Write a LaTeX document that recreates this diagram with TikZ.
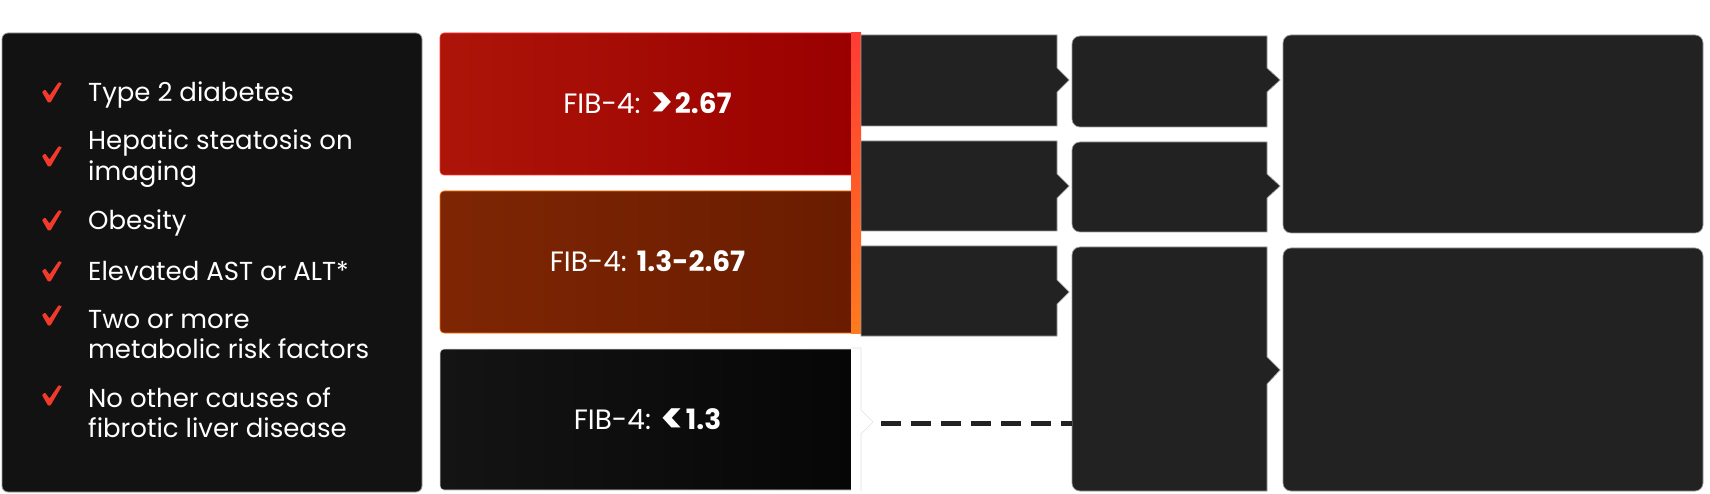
\documentclass[tikz,border=0pt]{standalone}
\usepackage{fontspec}
\setmainfont{Poppins}
\definecolor{boxgray}{HTML}{222222}
\definecolor{edgegray}{HTML}{9A9A9A}
\definecolor{panel}{HTML}{121212}
\definecolor{chkred}{HTML}{F23A2C}
\definecolor{redA}{HTML}{AD1509}
\definecolor{redB}{HTML}{990000}
\definecolor{brnA}{HTML}{7E2604}
\definecolor{brnB}{HTML}{6A1C00}
\definecolor{blkA}{HTML}{141414}
\definecolor{blkB}{HTML}{060606}
\definecolor{barTop}{HTML}{FF3B33}
\definecolor{barBot}{HTML}{FF7A1E}
\definecolor{ghost}{HTML}{E2E2E2}
\newcommand{\bigsym}[1]{\raisebox{-3.5pt}{\scalebox{1.55}{\bfseries #1}}\kern1pt}
\tikzset{
  listtxt/.style={anchor=base west, text=white, inner sep=0pt, font=\fontsize{26}{30}\selectfont},
  chkmark/.pic={\fill[chkred, rounded corners=0.8pt] (0,10) -- (3,7.5) -- (7.5,13.5) -- (16.5,0.5) -- (18,0) -- (17.5,1.2) -- (20,0.8) -- (8.5,20.5) -- (6,20.5) -- cycle;},
  fibbox/.style={rectangle, rounded corners=4pt, inner sep=0pt, text=white,
     font=\fontsize{28}{30}\selectfont},
  darkfill/.style={fill=boxgray, draw=edgegray, line width=0.7pt},
  bigbox/.style={rectangle, rounded corners=8pt, fill=boxgray, draw=edgegray, line width=0.7pt, inner sep=0pt},
  dashline/.style={draw=boxgray, line width=5pt, dash pattern=on 20pt off 10pt},
}
\begin{document}
\begin{tikzpicture}[x=1pt,y=-1pt]
\useasboundingbox (0,0) rectangle (1710,494);
\fill[white] (0,0) rectangle (1710,494);

% ---------- left checklist panel ----------
\node[rectangle, rounded corners=6pt, fill=panel, draw=edgegray, line width=0.8pt,
      minimum width=420pt, minimum height=459pt, inner sep=0pt] (panel) at (212,262.5) {};

\pic (k1) at (42,82)  {chkmark};
\pic (k2) at (42,146) {chkmark};
\pic (k3) at (42,210) {chkmark};
\pic (k4) at (42,261) {chkmark};
\pic (k5) at (42,305) {chkmark};
\pic (k6) at (42,385) {chkmark};

\node[listtxt] (t1)  at (88,102) {Type 2 diabetes};
\node[listtxt] (t2a) at (88,150) {Hepatic steatosis on};
\node[listtxt] (t2b) at (88,181) {imaging};
\node[listtxt] (t3)  at (88,230) {Obesity};
\node[listtxt] (t4)  at (88,280) {Elevated AST or ALT*};
\node[listtxt] (t5a) at (88,328) {Two or more};
\node[listtxt] (t5b) at (88,358) {metabolic risk factors};
\node[listtxt] (t6a) at (88,407) {No other causes of};
\node[listtxt] (t6b) at (88,437) {fibrotic liver disease};

% ---------- FIB-4 boxes ----------
\node[fibbox, left color=redA, right color=redB, draw=red!80!white, line width=0.6pt,
      minimum width=415pt, minimum height=142pt, text depth=0pt, text height=20pt] (fibH) at (647.5,104) {FIB-4: \bigsym{>}\textbf{2.67}};
\node[fibbox, left color=brnA, right color=brnB, draw=orange!90!red, line width=0.6pt,
      minimum width=415pt, minimum height=142pt, text depth=0pt, text height=20pt] (fibM) at (647.5,262) {FIB-4: \textbf{1.3-2.67}};
\node[fibbox, left color=blkA, right color=blkB, draw=ghost, line width=0.6pt,
      minimum width=415pt, minimum height=141pt, text depth=0pt, text height=20pt] (fibL) at (647.5,419.5) {FIB-4: \bigsym{<}\textbf{1.3}};

% side bar of the two upper FIB boxes
\shade[top color=barTop, bottom color=barBot] (851,33) rectangle (861,333);

% white pointer beside the low FIB box
\fill[white] (851,348) -- (861,348) -- (861,410) -- (873,422) -- (861,434) -- (861,491) -- (851,491) -- cycle;
\draw[ghost, line width=0.6pt] (851,348) -- (861,348) -- (861,410) -- (873,422) -- (861,434) -- (861,491);
\coordinate (lowtip) at (873,423);

% ---------- column 2 (pointer boxes) ----------
\path[darkfill] (861,35) -- (1057,35) -- (1057,68) -- (1069,80) -- (1057,92) -- (1057,126) -- (861,126) -- cycle;
\path[darkfill] (861,141) -- (1057,141) -- (1057,174) -- (1069,186) -- (1057,198) -- (1057,231) -- (861,231) -- cycle;
\path[darkfill] (861,246) -- (1057,246) -- (1057,280) -- (1069,292) -- (1057,304) -- (1057,336) -- (861,336) -- cycle;
\node[inner sep=0pt] (a1) at (959,80.5) {};
\node[inner sep=0pt] (a2) at (959,186) {};
\node[inner sep=0pt] (a3) at (959,291) {};

% ---------- column 3 (left-rounded pointer boxes) ----------
\path[darkfill] (1170,36) -- (1267,36) -- (1267,68) -- (1280,80) -- (1267,92) -- (1267,127) -- (1170,127)
   [rounded corners=8pt] -- (1072,127) -- (1072,36) -- cycle;
\path[darkfill] (1170,142) -- (1267,142) -- (1267,174) -- (1280,186) -- (1267,198) -- (1267,232) -- (1170,232)
   [rounded corners=8pt] -- (1072,232) -- (1072,142) -- cycle;
\path[darkfill] (1170,247) -- (1267,247) -- (1267,357) -- (1280,370) -- (1267,384) -- (1267,491) -- (1170,491)
   [rounded corners=8pt] -- (1072,491) -- (1072,247) -- cycle;
\node[inner sep=0pt] (b1) at (1170,81.5) {};
\node[inner sep=0pt] (b2) at (1170,187) {};
\node[inner sep=0pt] (b3) at (1170,369) {};
\coordinate (b3w) at (1072,423);

% ---------- column 4 ----------
\node[bigbox, minimum width=420pt, minimum height=198pt] (c1) at (1493,134) {};
\node[bigbox, minimum width=420pt, minimum height=243pt] (c2) at (1493,369.5) {};

% ---------- dashed connector ----------
\draw[dashline] ([xshift=8pt]lowtip) -- (b3w);
\end{tikzpicture}
\end{document}
